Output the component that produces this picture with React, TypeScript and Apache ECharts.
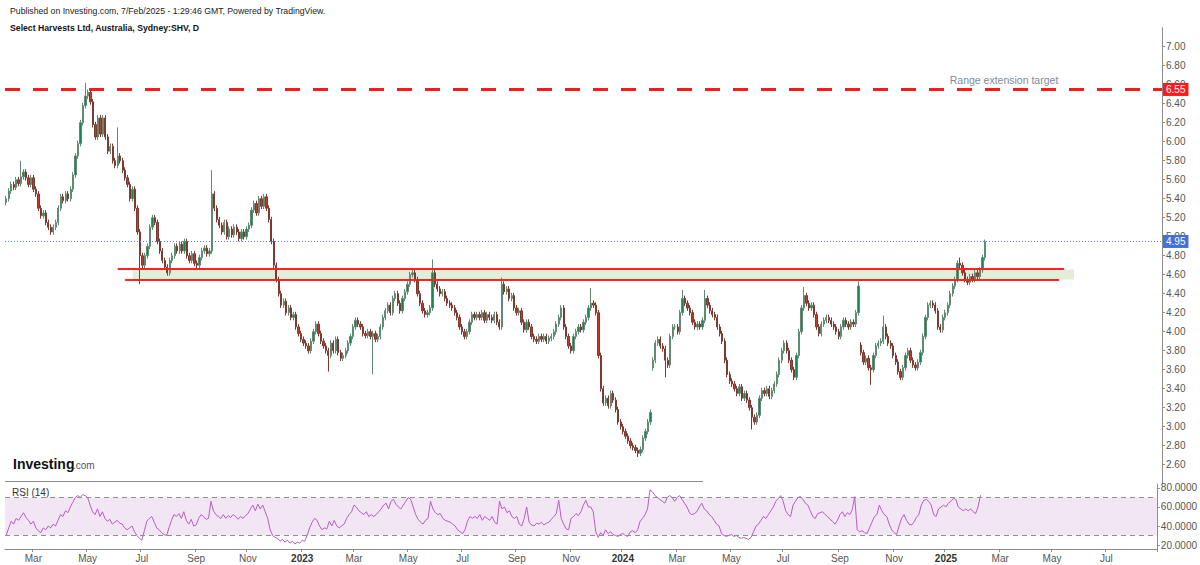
import React, { useEffect, useRef } from "react";
import * as echarts from "echarts";

// ---------- DATA ----------
const START_DATE = "2022-01-31"; // first slot; one slot = 2 trading days
const SLOT_COUNT = 467;

const CLOSES: number[] = [
  5.40,5.48,5.55,5.52,5.60,5.56,5.63,5.68,5.62,5.55,
  5.62,5.50,5.45,5.30,5.22,5.25,5.15,5.10,5.05,5.10,
  5.15,5.30,5.42,5.38,5.45,5.40,5.50,5.65,5.85,5.98,
  6.20,6.38,6.48,6.52,6.42,6.18,6.05,6.25,6.08,6.25,
  6.05,5.90,5.95,5.80,5.75,5.85,5.80,5.70,5.62,5.55,
  5.40,5.50,5.30,5.05,4.80,4.70,4.80,4.90,5.10,5.20,
  5.15,4.95,4.85,4.75,4.68,4.62,4.75,4.80,4.90,4.85,
  4.92,4.85,4.95,4.80,4.75,4.82,4.72,4.70,4.78,4.85,
  4.88,4.82,4.85,5.45,5.30,5.18,5.12,5.05,5.15,5.00,
  5.08,5.02,5.10,5.05,4.98,5.05,5.00,5.08,5.12,5.28,
  5.35,5.25,5.40,5.32,5.42,5.30,5.18,4.95,4.70,4.55,
  4.40,4.28,4.32,4.20,4.25,4.15,4.18,4.05,3.98,3.92,
  3.88,3.85,3.80,3.90,4.00,4.08,3.98,3.90,3.85,3.80,
  3.75,3.88,3.80,3.92,3.78,3.72,3.75,3.80,3.88,3.95,
  4.05,4.12,4.08,4.05,3.98,3.96,4.00,3.95,3.98,3.92,
  3.95,4.05,4.15,4.22,4.28,4.20,4.35,4.40,4.30,4.22,
  4.35,4.42,4.50,4.60,4.62,4.55,4.40,4.30,4.22,4.18,
  4.20,4.25,4.62,4.50,4.45,4.40,4.42,4.35,4.30,4.28,
  4.25,4.20,4.15,4.05,4.00,3.95,4.00,4.10,4.18,4.15,
  4.18,4.15,4.20,4.12,4.18,4.15,4.12,4.18,4.10,4.05,
  4.50,4.42,4.45,4.35,4.38,4.25,4.20,4.22,4.10,4.02,
  4.10,4.05,3.95,3.92,3.90,3.95,3.92,3.95,3.90,3.93,
  3.95,4.00,4.08,4.15,4.25,4.05,3.95,3.85,3.80,3.95,
  4.00,4.05,4.02,4.10,4.15,4.25,4.30,4.28,4.20,3.75,
  3.40,3.25,3.30,3.22,3.35,3.28,3.18,3.05,3.00,2.95,
  2.90,2.85,2.80,2.78,2.75,2.72,2.76,2.88,2.95,3.05,
  3.15,3.70,3.88,3.92,3.85,3.82,3.70,3.65,3.95,4.05,
  4.05,4.00,4.20,4.35,4.30,4.25,4.20,4.10,4.05,4.08,
  4.05,4.12,4.35,4.28,4.22,4.18,4.15,4.05,3.98,3.90,
  3.70,3.55,3.48,3.45,3.40,3.35,3.42,3.30,3.35,3.28,
  3.20,3.10,3.05,3.12,3.30,3.38,3.35,3.40,3.32,3.38,
  3.45,3.55,3.70,3.80,3.88,3.80,3.70,3.60,3.52,3.75,
  4.00,4.25,4.38,4.30,4.25,4.28,4.18,4.05,3.98,4.08,
  4.12,4.15,4.12,4.08,4.05,4.00,3.95,4.05,4.12,4.08,
  4.05,4.10,4.08,4.20,4.48,3.78,3.68,3.72,3.62,3.60,
  3.75,3.85,3.88,3.90,4.05,3.95,3.88,3.85,3.75,3.68,
  3.58,3.52,3.62,3.75,3.80,3.70,3.65,3.62,3.68,3.78,
  3.95,4.15,4.28,4.30,4.28,4.22,4.05,4.02,4.15,4.20,
  4.28,4.40,4.48,4.55,4.72,4.70,4.62,4.55,4.52,4.58,
  4.55,4.62,4.58,4.65,4.78,4.95,
];

const FIRST_OPEN = 5.36;
// opens that gap away from the previous close
const GAP_OPENS: Record<number, number> = { 261: 3.62, 345: 3.86 };
// long wicks
const HIGHS: Record<number, number> = {
  6: 5.80, 32: 6.62, 45: 6.15, 83: 5.70, 172: 4.76, 200: 4.57, 236: 4.46,
  273: 4.44, 282: 4.44, 322: 4.47, 344: 4.53, 354: 4.17, 385: 4.78, 395: 4.97,
};
const LOWS: Record<number, number> = {
  54: 4.50, 130: 3.58, 148: 3.55, 255: 2.68, 266: 3.52, 301: 2.97, 349: 3.44,
};
const WICK = 0.03;

const RSI: number[] = [
  30,38,45,42,48,46,50,54,49,46,
  42,45,38,35,33,38,36,40,38,42,
  40,46,52,50,56,54,60,65,70,72,
  70,73,72,70,62,55,52,58,50,55,
  48,45,47,42,44,46,43,42,38,36,
  38,40,34,30,27,25,35,45,48,50,
  44,38,36,33,31,30,38,46,52,50,
  53,48,55,46,42,47,40,41,48,52,
  50,47,48,66,56,52,50,48,52,48,
  51,49,52,50,47,50,48,51,53,58,
  62,56,63,58,62,55,48,36,30,28,
  27,24,26,23,25,22,24,21,23,22,
  25,24,30,38,44,48,46,40,36,38,
  37,45,40,46,40,38,40,42,48,52,
  55,62,60,56,54,52,55,50,52,50,
  52,55,58,62,64,58,66,68,63,60,
  58,62,66,70,68,60,52,47,44,42,
  46,48,66,58,54,52,53,48,46,45,
  44,42,40,36,34,32,36,45,50,48,
  50,48,52,46,50,48,46,50,44,42,
  66,58,60,54,56,50,48,50,42,40,
  48,60,44,41,40,43,42,44,41,43,
  44,47,50,53,67,48,42,37,36,48,
  50,53,51,55,62,67,60,60,55,34,
  28,33,30,36,32,34,31,30,29,31,
  32,30,29,34,35,33,36,45,48,52,
  58,78,76,72,70,68,66,64,70,72,
  70,66,70,72,68,64,60,54,52,53,
  55,60,64,58,56,52,50,46,42,40,
  32,30,29,30,31,29,30,28,27,28,
  27,26,28,34,40,42,46,50,48,52,
  56,60,66,69,72,66,56,52,50,62,
  66,70,71,68,64,62,56,50,48,53,
  54,55,52,50,47,45,42,46,52,55,
  50,54,52,57,71,36,34,35,33,32,
  38,44,50,52,62,56,52,50,42,36,
  33,31,40,48,52,46,42,41,44,49,
  52,62,67,68,66,62,52,50,58,60,
  62,60,64,66,69,68,60,58,56,58,
  56,58,55,53,60,72.4136,
];

const TARGET_PRICE = 6.55;
const LAST_PRICE = 4.95;
const LAST_RSI = 72.4136;
const ZONE_TOP = 4.66;
const ZONE_BOTTOM = 4.545;
const RSI_UPPER = 70;
const RSI_LOWER = 30;
const UPPER_LINE_DATES = ["2022-06-06", "2025-05-08"];
const LOWER_LINE_DATES = ["2022-06-14", "2025-05-05"];
const ZONE_DATES = ["2022-06-21", "2025-05-21"];
const MONTHS = ["Jan","Feb","Mar","Apr","May","Jun","Jul","Aug","Sep","Oct","Nov","Dec"];

const FONT = '"Liberation Sans", Arial, sans-serif';

function buildSlots(start: string, count: number): string[] {
  const out: string[] = [];
  const d = new Date(start + "T00:00:00Z");
  let wd = 0;
  while (out.length < count) {
    const dow = d.getUTCDay();
    if (dow !== 0 && dow !== 6) {
      if (wd % 2 === 0) out.push(d.toISOString().slice(0, 10));
      wd++;
    }
    d.setUTCDate(d.getUTCDate() + 1);
  }
  return out;
}

export default function App() {
  const ref = useRef<HTMLDivElement>(null);

  useEffect(() => {
    if (!ref.current) return;
    const chart = echarts.init(ref.current, undefined, { renderer: "svg" });

    const slots = buildSlots(START_DATE, SLOT_COUNT);
    const slotOf = (date: string) => {
      const i = slots.findIndex((s) => s >= date);
      return slots[i < 0 ? slots.length - 1 : i];
    };

    const ohlc = CLOSES.map((c, i) => {
      const o = GAP_OPENS[i] ?? (i === 0 ? FIRST_OPEN : CLOSES[i - 1]);
      const h = HIGHS[i] ?? Math.max(o, c) + WICK;
      const l = LOWS[i] ?? Math.min(o, c) - WICK;
      return [o, c, l, h];
    });

    const labelIdx = new Set<number>();
    for (let i = 1; i < slots.length; i++) {
      const m = +slots[i].slice(5, 7);
      const pm = +slots[i - 1].slice(5, 7);
      if (m !== pm && m % 2 === 1) labelIdx.add(i);
    }
    const showLabel = (index: number) => labelIdx.has(index);

    const axisGray = "#8c8c8c";
    const labelGray = "#555";

    const option: any = {
      animation: false,
      textStyle: { fontFamily: FONT },
      grid: [
        { left: 5, right: 38, top: 27.7, height: 456 },
        { left: 5, right: 38, top: 484, bottom: 16 },
      ],
      xAxis: [
        {
          type: "category", gridIndex: 0, data: slots, boundaryGap: true, show: false,
        },
        {
          type: "category", gridIndex: 1, data: slots, boundaryGap: true,
          axisLine: { lineStyle: { color: axisGray } },
          axisTick: { show: true, interval: showLabel, length: 3, lineStyle: { color: axisGray } },
          axisLabel: {
            interval: showLabel,
            color: labelGray,
            fontSize: 10,
            margin: 4,
            formatter: (v: string) => {
              const m = +v.slice(5, 7);
              return m === 1 ? `{y|${v.slice(0, 4)}}` : MONTHS[m - 1];
            },
            rich: { y: { fontWeight: "bold", color: "#333", fontSize: 10, fontFamily: FONT } },
          },
          splitLine: { show: false },
        },
      ],
      yAxis: [
        {
          type: "value", gridIndex: 0, position: "right", min: 2.4, max: 7.2, interval: 0.2,
          axisLine: { show: true, lineStyle: { color: axisGray } },
          axisTick: { show: true, length: 3, lineStyle: { color: axisGray } },
          axisLabel: {
            color: labelGray, fontSize: 10, margin: 4, showMinLabel: false, showMaxLabel: false,
            formatter: (v: number) => v.toFixed(2),
          },
          splitLine: { show: false },
        },
        {
          type: "value", gridIndex: 1, position: "right", min: 15.8, max: 84.2, splitNumber: 3,
          axisLine: { show: true, lineStyle: { color: axisGray } },
          axisTick: { show: true, length: 3, lineStyle: { color: axisGray } },
          axisLabel: {
            color: labelGray, fontSize: 10, margin: 4, showMinLabel: false, showMaxLabel: false,
            formatter: (v: number) => v.toFixed(4),
          },
          splitLine: { show: false },
        },
      ],
      series: [
        {
          type: "line", xAxisIndex: 0, yAxisIndex: 0, data: [], z: 1, silent: true,
          markArea: {
            silent: true,
            itemStyle: { color: "#e2eed8" },
            data: [[
              { coord: [slotOf(ZONE_DATES[0]), ZONE_TOP - 0.005] },
              { coord: [slotOf(ZONE_DATES[1]), ZONE_BOTTOM + 0.005] },
            ]],
          },
        },
        {
          name: "SHV", type: "candlestick", xAxisIndex: 0, yAxisIndex: 0, z: 2,
          data: ohlc, barWidth: "72%",
          itemStyle: {
            color: "#16884f", color0: "#c0392b",
            borderColor: "#5e8c73", borderColor0: "#7d3a31", borderWidth: 1,
          },
        },
        {
          type: "line", xAxisIndex: 0, yAxisIndex: 0, data: [], z: 3, silent: true,
          markLine: {
            silent: true, symbol: "none",
            data: [
              {
                yAxis: TARGET_PRICE,
                lineStyle: { color: "#ff1a1a", width: 3, type: [15, 13] },
                label: {
                  show: true, position: "end", distance: 1, formatter: TARGET_PRICE.toFixed(2),
                  color: "#fff", backgroundColor: "#ff1a1a", padding: [2, 3, 1, 3], fontSize: 10,
                },
              },
              {
                yAxis: LAST_PRICE,
                lineStyle: { color: "#5b80d8", width: 1, type: [1, 2] },
                label: {
                  show: true, position: "end", distance: 1, formatter: LAST_PRICE.toFixed(2),
                  color: "#fff", backgroundColor: "#4170d9", padding: [2, 3, 1, 3], fontSize: 10,
                },
              },
              [
                { coord: [slotOf(UPPER_LINE_DATES[0]), ZONE_TOP] },
                { coord: [slotOf(UPPER_LINE_DATES[1]), ZONE_TOP] },
              ],
              [
                { coord: [slotOf(LOWER_LINE_DATES[0]), ZONE_BOTTOM] },
                { coord: [slotOf(LOWER_LINE_DATES[1]), ZONE_BOTTOM] },
              ],
            ],
            lineStyle: { color: "#ff2222", width: 2, type: "solid" },
            label: { show: false },
          },
        },
        {
          type: "line", xAxisIndex: 1, yAxisIndex: 1, data: [], z: 1, silent: true,
          markArea: {
            silent: true,
            itemStyle: { color: "#f2e5f4" },
            data: [[{ yAxis: RSI_UPPER }, { yAxis: RSI_LOWER }]],
          },
          markLine: {
            silent: true, symbol: "none",
            lineStyle: { color: "#8f8f8f", width: 1, type: [5, 4] },
            label: { show: false },
            data: [{ yAxis: RSI_UPPER }, { yAxis: RSI_LOWER }],
          },
        },
        {
          name: "RSI", type: "line", xAxisIndex: 1, yAxisIndex: 1, z: 3,
          data: RSI, showSymbol: false, symbol: "none",
          lineStyle: { color: "#b55fc4", width: 1 },
          markLine: {
            silent: true, symbol: "none",
            data: [{
              yAxis: LAST_RSI,
              lineStyle: { opacity: 0 },
              label: {
                show: true, position: "end", distance: 1, formatter: LAST_RSI.toFixed(4),
                color: "#fff", backgroundColor: "#8a1a95", padding: [1, 3, 0, 3], fontSize: 10,
              },
            }],
          },
        },
      ],
      graphic: [
        {
          type: "text", x: 10, y: 11,
          style: {
            text: "Published on Investing.com, 7/Feb/2025 - 1:29:46 GMT, Powered by TradingView.",
            fill: "#222", fontSize: 8.7, fontFamily: FONT, verticalAlign: "middle",
          },
        },
        {
          type: "text", x: 10, y: 28,
          style: {
            text: "Select Harvests Ltd, Australia, Sydney:SHV, D",
            fill: "#111", fontSize: 8.7, fontWeight: "bold", fontFamily: FONT, verticalAlign: "middle",
          },
        },
        {
          type: "text", x: 1004, y: 80,
          style: {
            text: "Range extension target", fill: "#7f8b9c", fontSize: 10.5, fontFamily: FONT,
            align: "center", verticalAlign: "middle",
          },
        },
        {
          type: "text", x: 13, y: 471,
          style: {
            text: "Investing", fill: "#111", fontSize: 14, fontWeight: "bold", fontFamily: FONT,
            verticalAlign: "bottom",
          },
        },
        {
          type: "text", x: 73, y: 470.5,
          style: {
            text: ".com", fill: "#555", fontSize: 10, fontFamily: FONT, verticalAlign: "bottom",
          },
        },
        {
          type: "line", shape: { x1: 5, y1: 481.5, x2: 703, y2: 481.5 },
          style: { stroke: "#8c8c8c", lineWidth: 1 },
        },
        {
          type: "text", x: 12, y: 492,
          style: {
            text: "RSI (14)", fill: "#333", fontSize: 10, fontFamily: FONT, verticalAlign: "middle",
          },
        },
      ],
    };

    chart.setOption(option);
    return () => chart.dispose();
  }, []);

  return (
    <div
      ref={ref}
      style={{ position: "fixed", left: 0, top: 0, width: 1200, height: 565, background: "#fff" }}
    />
  );
}
